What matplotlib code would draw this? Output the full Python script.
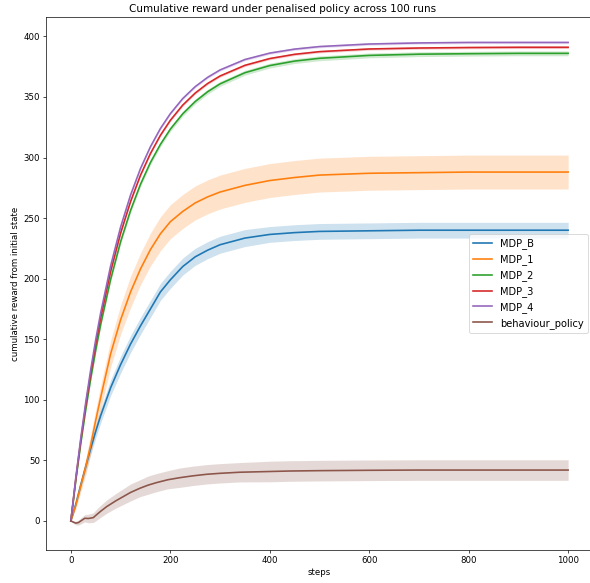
import matplotlib
matplotlib.use("Agg")
import matplotlib.pyplot as plt
import numpy as np

steps = [0, 10, 20, 30, 40, 50, 60, 80, 100, 120, 140, 160, 180, 200,
         225, 250, 275, 300, 350, 400, 450, 500, 600, 700, 800, 900, 1000]

mdp_b = [0, 14, 30, 45, 60, 74, 87, 110, 129, 146, 161, 175, 189, 199,
         210, 218, 223.5, 228, 233.5, 236.5, 238, 239, 239.5, 240, 240, 240, 240]
mdp_b_sd = [0, 2, 3, 4, 5, 5.5, 6, 6.5, 7, 7, 7, 7, 7, 7,
            7, 7, 7, 7, 7, 6.5, 6.5, 6.5, 6.5, 6.5, 6.5, 6.5, 6.5]

mdp_1 = [0, 13, 29, 45, 63, 83, 102, 138, 166, 189, 208, 224, 237, 247,
         255.5, 262.5, 267.5, 271.5, 277, 281, 283.5, 285.5, 287, 287.5, 288, 288, 288]
mdp_1_sd = [0, 3, 5, 7, 8, 9, 10, 11, 12, 13, 13, 13.5, 14, 14,
            14, 14, 14, 14, 14, 14, 14, 14, 14, 14, 14, 14, 14]

mdp_2 = [0, 33.5, 64.2, 92.1, 117.7, 141, 162.3, 199.5, 230.5, 256.3, 277.9,
         295.9, 310.8, 323.4, 336.1, 346.2, 354.3, 360.8, 370, 375.9, 379.6,
         381.9, 384.3, 385.3, 385.7, 386, 386]
mdp_2_sd = [0, 1, 1.5, 2, 2, 2, 2, 2, 2, 2, 2, 2, 2, 2,
            2, 2, 2, 2, 2, 2, 2, 2, 2, 2, 2, 2, 2]

mdp_3 = [0, 34.9, 66.7, 95.6, 122, 146, 167.8, 205.9, 237.5, 263.6, 285.4,
         303.3, 318.3, 330.7, 343.3, 353.2, 361.1, 367.3, 376.1, 381.7, 385.2,
         387.4, 389.6, 390.4, 390.8, 391, 391]
mdp_3_sd = [0, 0.5, 1, 1, 1, 1, 1, 1, 1, 1, 1, 1, 1, 1,
            1, 1, 1, 1, 1, 1, 1, 1, 1, 1, 1, 1, 1]

mdp_4 = [0, 35.9, 68.5, 98.2, 125.1, 149.7, 171.9, 210.6, 242.6, 269, 290.9,
         308.9, 323.9, 336.2, 348.7, 358.5, 366.2, 372.3, 380.9, 386.2, 389.5,
         391.6, 393.7, 394.6, 395, 395, 395]
mdp_4_sd = [0, 0.5, 1, 1, 1, 1, 1, 1, 1, 1, 1, 1, 1, 1,
            1, 1, 1, 1, 1, 1, 1, 1, 1, 1, 1, 1, 1]

behav_steps = [0, 5, 10, 15, 20, 28, 35, 45, 50, 60, 72, 90, 105, 120, 139,
               155, 172, 195, 219, 245, 273, 300, 340, 400, 440, 500, 600,
               700, 800, 900, 1000]
behaviour = [0, -1, -1.8, -1.4, 0, 2.2, 2.0, 2.7, 4.5, 8, 11.8, 16.5, 20, 23.5,
             27, 29.5, 31.6, 34, 35.7, 37.2, 38.5, 39.3, 40.2, 40.8, 41.2, 41.5,
             41.8, 42, 42, 42, 42]
behaviour_sd = [0, 1, 1.5, 2, 2.5, 3, 3.5, 4, 4.5, 5, 5.5, 6, 6.5, 7, 7,
                7.5, 7.5, 7.5, 8, 8, 8, 8, 8, 8.5, 8.5, 8.5, 8.5, 8.5, 8.5,
                8.5, 8.5]

labels = ["MDP_B", "MDP_1", "MDP_2", "MDP_3", "MDP_4", "behaviour_policy"]
colors = ["#1f77b4", "#ff7f0e", "#2ca02c", "#d62728", "#9467bd", "#8c564b"]

W, H = 590, 583
dpi = 62
fig = plt.figure(figsize=(W / dpi, H / dpi), dpi=dpi)
ax = fig.add_axes([46 / W, (H - 550) / H, (593 - 46) / W, (550 - 17) / H])

series = [(steps, mdp_b, mdp_b_sd), (steps, mdp_1, mdp_1_sd),
          (steps, mdp_2, mdp_2_sd), (steps, mdp_3, mdp_3_sd),
          (steps, mdp_4, mdp_4_sd), (behav_steps, behaviour, behaviour_sd)]

for (x, y, sd), lab, c in zip(series, labels, colors):
    x = np.array(x, float)
    y = np.array(y, float)
    sd = np.array(sd, float)
    ax.fill_between(x, y - sd, y + sd, color=c, alpha=0.22, linewidth=0)
    ax.plot(x, y, color=c, label=lab, linewidth=1.9)

ax.set_xlim(-50, 1050)
ax.set_ylim(-24, 416)
ax.set_xticks([0, 200, 400, 600, 800, 1000])
ax.set_yticks([0, 50, 100, 150, 200, 250, 300, 350, 400])
ax.spines["right"].set_visible(False)
ax.set_xlabel("steps")
ax.set_ylabel("cumulative reward from initial state")
fig.text(283 / W, 1 - 9 / H, "Cumulative reward under penalised policy across 100 runs",
         ha="center", va="center", fontsize=12)
ax.legend(loc="center right", fontsize=11.5, borderaxespad=0.5)

fig.savefig("out.png", dpi=dpi)
